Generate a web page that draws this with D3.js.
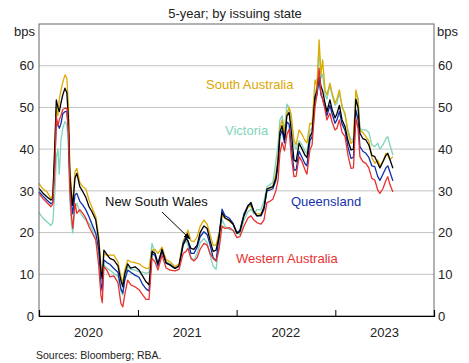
<!DOCTYPE html>
<html>
<head>
<meta charset="utf-8">
<script src="https://cdn.jsdelivr.net/npm/d3@7"></script>
<style>
  body { margin: 0; background: #fff; }
  text { font-family: "Liberation Sans", Arial, sans-serif; }
</style>
</head>
<body>
<div id="chart"></div>
<script>
// data
var dates = ["2020-01-01","2020-01-15","2020-01-30","2020-02-14","2020-02-21","2020-02-29","2020-03-05","2020-03-11","2020-03-16","2020-03-22",
  "2020-03-29","2020-04-06","2020-04-13","2020-04-19","2020-04-24","2020-04-30","2020-05-05","2020-05-13","2020-05-20","2020-05-31",
  "2020-06-11","2020-06-22","2020-07-04","2020-07-15","2020-07-29","2020-08-09","2020-08-17","2020-08-22","2020-08-28","2020-09-08",
  "2020-09-19","2020-10-04","2020-10-19","2020-10-30","2020-11-06","2020-11-13","2020-11-24","2020-12-05","2020-12-21","2021-01-05",
  "2021-01-19","2021-01-31","2021-02-11","2021-02-22","2021-03-05","2021-03-16","2021-03-31","2021-04-15","2021-04-30","2021-05-18",
  "2021-06-02","2021-06-17","2021-06-28","2021-07-05","2021-07-16","2021-07-27","2021-08-08","2021-08-19","2021-09-02","2021-09-14",
  "2021-09-25","2021-10-06","2021-10-17","2021-10-28","2021-11-08","2021-11-19","2021-12-04","2021-12-19","2022-01-02","2022-01-13",
  "2022-01-28","2022-02-12","2022-02-23","2022-03-06","2022-03-17","2022-04-01","2022-04-12","2022-04-23","2022-05-04","2022-05-15",
  "2022-05-26","2022-06-03","2022-06-10","2022-06-18","2022-06-27","2022-07-06","2022-07-14","2022-07-21","2022-08-01","2022-08-09",
  "2022-08-20","2022-08-31","2022-09-11","2022-09-18","2022-09-29","2022-10-07","2022-10-18","2022-10-25","2022-11-02","2022-11-09",
  "2022-11-15","2022-11-24","2022-12-01","2022-12-12","2022-12-20","2022-12-31","2023-01-07","2023-01-16","2023-01-26","2023-02-06",
  "2023-02-17","2023-02-28","2023-03-09","2023-03-18","2023-03-26","2023-04-02","2023-04-13","2023-04-24","2023-05-05","2023-05-16",
  "2023-05-27","2023-06-07","2023-06-15","2023-06-26","2023-07-07","2023-07-14","2023-07-22","2023-08-02"];

var southAustralia = [31.8,30.5,29.8,28.2,29,40,50,48,52,54,
  56,57.8,57,50,36,30,27,34.5,35.4,32,
  31,30.5,27.8,26,23.8,19,12,9,15,14.5,
  14.6,14.6,13,9.4,8,11,13.4,13,12.8,12.5,
  11.8,11.4,11.5,15.8,16,15,16.5,13.5,13,11.8,
  12.5,18,19.5,20.6,18,17.8,19,21.5,23,22,
  19.5,17,17,20,24,23.5,22.8,22,20,20.5,
  24,26,26.4,25,24.5,24.5,26,30,30.5,31,
  34,38,45,47,44,48.5,50,48.5,42.2,41,
  44.6,43.5,42,41.5,46.2,46,56.6,55,66.2,58,
  61.4,54.2,53,55.8,53.5,51,52,54.2,50,48.6,
  44,41.4,42,54.2,52,44.6,44,43,42,38,
  36.6,37.4,36,37,39,38.5,37.5,38.2];

var victoria = [24.8,23.5,22.6,21.7,22.5,30,38,40,34,42,
  45,46.6,46,40,28,22,19.9,26,27,25,
  23.8,23,22.2,21,18.2,15,10,8,12.2,11.5,
  11,10.2,9.5,6,5,9,11.8,11.2,11,10.6,
  10.5,10.2,10.5,17.4,15,11.8,15.5,13,12.5,11.5,
  12.5,17,18,17,14,13.4,15,17.5,18.6,17.5,
  14.5,12,11.2,17,23.2,21.5,20.8,20.5,20,19.5,
  23,25,25.6,24.5,25.5,25.5,27.5,31,31.5,32,
  37,41,47,48,44.5,50.8,50,47.8,41,40,
  42,41,39.5,39,44.5,45,53.4,55,63.8,57,
  58,53,52,55.4,53,50.5,51,53.5,50.5,48,
  44.5,42.2,42.5,53.4,52,45,44.6,44.6,44,41,
  40.6,41.4,40,41,42.5,43,41,38.6];

var newSouthWales = [30.6,29.5,28.6,27.8,28.2,42,51.8,50,49,51,
  53,54.6,53.5,47,34,29,26.5,33,34.2,31,
  29.8,28.5,26.2,25,23,18,11,9,15.8,14.8,
  13.8,13.4,12,8.5,7,10,12.5,11.5,11.8,11,
  9.5,8.2,7.5,15.5,15,12.6,16,12.8,12.2,11.4,
  12,17,18.5,18,16.2,16,17,20,21.6,21,
  18,15.5,15.8,19,24.8,23.5,23,22,19.8,20.2,
  24,26.4,27.2,25,24,24.2,26,30.4,30.8,31,
  33,37,44,45.6,42.4,48,48.8,45,37.4,37,
  41.4,40,38.5,38,43,44,52.6,54,58.2,55,
  54,51,49,51.8,49.5,47.5,48.5,50.5,47,45.4,
  42,39.8,40,52,50,43.8,42.5,42.2,41,38.5,
  38.2,36.6,35.5,37,38.5,39,37.5,35.4];

var queensland = [29.8,28.8,27.8,26.9,27.3,38,47,46,45,46,
  48.5,49,49,44,32,27,24.5,29,29.4,27.5,
  26.6,25.5,23.8,22,19.8,16,8,6,13.4,12.8,
  12.4,11.4,10.5,6.5,5.5,8.5,11,10.5,9.8,9.3,
  7.5,6.5,6,15,14.5,12,15.5,12.6,12.3,11.4,
  12,17.5,19,18,15,15,16.5,19,20.2,19.5,
  17,14,13.2,19,25.6,24,23.5,22.2,20,20.5,
  24.5,26.5,26.8,25,24,24,25.5,30,30.2,30.5,
  32.5,36,43,44.5,41.5,46.5,46,41.4,35,35,
  39.5,38,36.5,36,42,43,52,53,56.6,53,
  52,50,48,50.5,48.5,46.2,47,49,46,44.5,
  40.5,37.8,38,49.4,47,40.6,39.5,39,38,36,
  35.8,33.4,32.5,34,35.5,36,34.5,32.4];

var westernAustralia = [29.4,28.2,27.2,26.2,26.8,36,47.8,45.5,47,48,
  49.5,49.8,49.8,44,30,24,21,27,24.6,25.5,
  24.6,23.5,21.4,20,18.2,12,5,3.2,11.8,11,
  9.4,9.6,8,3,2.2,5,8.6,7.5,7,6.3,
  5,4,4,13.8,13,11,14.6,11.5,11,10.8,
  11.2,15,15.5,16.2,13.8,13.2,14,16,17.4,17,
  15,13.8,13.2,16,21.6,21,21.2,20.5,18.8,19,
  21.5,23.5,24,23,22.4,22,23,27.2,27.5,28,
  30,32.5,39,41.6,39.6,43.5,44.8,39,33.4,33.5,
  38.2,37,35,34,39.8,41,50.2,53,59.4,53.5,
  52,49.4,47,48.6,46.5,44.6,45,47,44,43,
  38.5,35.4,35.5,47.4,45,38.2,37,36.6,35.5,33,
  32.6,30.2,29.4,30.5,32.5,33.4,31.5,29.7];

var yTicks = [0, 10, 20, 30, 40, 50, 60];
var yearLabels = ["2020", "2021", "2022", "2023"];

var parse = d3.timeParse("%Y-%m-%d");
var times = dates.map(parse);

var width = 469, height = 363;
var margin = { left: 39, right: 35, top: 24, bottom: 47 };

var svg = d3.select("#chart")
    .append("svg")
    .attr("width", width)
    .attr("height", height);

var x = d3.scaleTime()
    .domain([new Date(2020, 0, 1), new Date(2024, 0, 1)])
    .range([margin.left, width - margin.right]);
var y = d3.scaleLinear()
    .domain([0, 70])
    .range([height - margin.bottom, margin.top]);

// grid
svg.append("g")
    .selectAll("line")
    .data(yTicks.filter(function(d) { return d > 0; }))
    .enter().append("line")
    .attr("x1", x.range()[0]).attr("x2", x.range()[1])
    .attr("y1", function(d) { return y(d); })
    .attr("y2", function(d) { return y(d); })
    .attr("stroke", "#c4c4c4")
    .attr("stroke-width", 1);

// series
var series = [
  { name: "Victoria", values: victoria, color: "#7fd4bb" },
  { name: "South Australia", values: southAustralia, color: "#dcaa00" },
  { name: "Queensland", values: queensland, color: "#0b2fae" },
  { name: "New South Wales", values: newSouthWales, color: "#000000" },
  { name: "Western Australia", values: westernAustralia, color: "#e8312f" }
];

var line = d3.line()
    .x(function(d) { return x(d[0]); })
    .y(function(d) { return y(d[1]); });

svg.append("g")
    .selectAll("path")
    .data(series)
    .enter().append("path")
    .attr("fill", "none")
    .attr("stroke", function(d) { return d.color; })
    .attr("stroke-width", 1.3)
    .attr("stroke-linejoin", "round")
    .attr("d", function(s) {
        return line(times.map(function(t, i) { return [t, s.values[i]]; }));
    });

// frame
svg.append("rect")
    .attr("x", x.range()[0]).attr("y", y(70))
    .attr("width", x.range()[1] - x.range()[0])
    .attr("height", y(0) - y(70))
    .attr("fill", "none")
    .attr("stroke", "#666")
    .attr("stroke-width", 1);

// x axis
var xAxisCall = d3.axisBottom(x)
    .tickValues([new Date(2021, 0, 1), new Date(2022, 0, 1), new Date(2023, 0, 1)])
    .tickSize(-6)
    .tickFormat("");
var xAxis = svg.append("g")
    .attr("transform", "translate(0," + y(0) + ")")
    .call(xAxisCall);
xAxis.select(".domain").attr("stroke", "#000").attr("stroke-width", 1.2);
xAxis.selectAll(".tick line").attr("stroke", "#000");

svg.append("g")
    .selectAll("text")
    .data(yearLabels)
    .enter().append("text")
    .attr("x", function(d) { return x(new Date(+d, 6, 2)); })
    .attr("y", 337)
    .attr("text-anchor", "middle")
    .attr("font-size", "13px")
    .attr("fill", "#222")
    .text(function(d) { return d; });

// y axes
var yAxisLeft = d3.axisLeft(y).tickValues(yTicks).tickSize(0).tickPadding(5);
var yAxisRight = d3.axisRight(y).tickValues(yTicks).tickSize(0).tickPadding(4);
var yl = svg.append("g").attr("transform", "translate(" + x.range()[0] + ",0)").call(yAxisLeft);
var yr = svg.append("g").attr("transform", "translate(" + x.range()[1] + ",0)").call(yAxisRight);
[yl, yr].forEach(function(a) {
    a.select(".domain").remove();
    a.selectAll("text")
        .attr("font-size", "13px")
        .attr("fill", "#222")
        .style("font-family", "'Liberation Sans', Arial, sans-serif");
});

// units
svg.append("text").attr("x", 35).attr("y", 36).attr("text-anchor", "end")
    .attr("font-size", "13px").attr("fill", "#222").text("bps");
svg.append("text").attr("x", 437).attr("y", 36).attr("text-anchor", "start")
    .attr("font-size", "13px").attr("fill", "#222").text("bps");

// title
svg.append("text")
    .attr("x", 235).attr("y", 17.5)
    .attr("text-anchor", "middle")
    .attr("font-size", "13px")
    .attr("fill", "#222")
    .text("5-year; by issuing state");

// source
svg.append("text")
    .attr("x", 36).attr("y", 359)
    .attr("font-size", "10.5px")
    .attr("fill", "#222")
    .text("Sources: Bloomberg; RBA.");

// series labels
var labels = [
  { text: "South Australia", x: 206, y: 88.5, color: "#d9a800" },
  { text: "Victoria", x: 225, y: 135, color: "#7fd4bb" },
  { text: "New South Wales", x: 105, y: 206, color: "#111" },
  { text: "Queensland", x: 291, y: 205.5, color: "#1633b0" },
  { text: "Western Australia", x: 236, y: 263, color: "#e8312f" }
];
svg.append("g")
    .selectAll("text")
    .data(labels)
    .enter().append("text")
    .attr("x", function(d) { return d.x; })
    .attr("y", function(d) { return d.y; })
    .attr("font-size", "13px")
    .attr("fill", function(d) { return d.color; })
    .text(function(d) { return d.text; });

// arrow for NSW
svg.append("defs").append("marker")
    .attr("id", "arrow")
    .attr("viewBox", "0 0 10 10")
    .attr("refX", 9).attr("refY", 5)
    .attr("markerWidth", 7).attr("markerHeight", 7)
    .attr("orient", "auto")
    .append("path")
    .attr("d", "M0,1 L10,5 L0,9 z")
    .attr("fill", "#000");
svg.append("line")
    .attr("x1", 162).attr("y1", 212)
    .attr("x2", 190).attr("y2", 239)
    .attr("stroke", "#000")
    .attr("stroke-width", 1)
    .attr("marker-end", "url(#arrow)");
</script>
</body>
</html>
